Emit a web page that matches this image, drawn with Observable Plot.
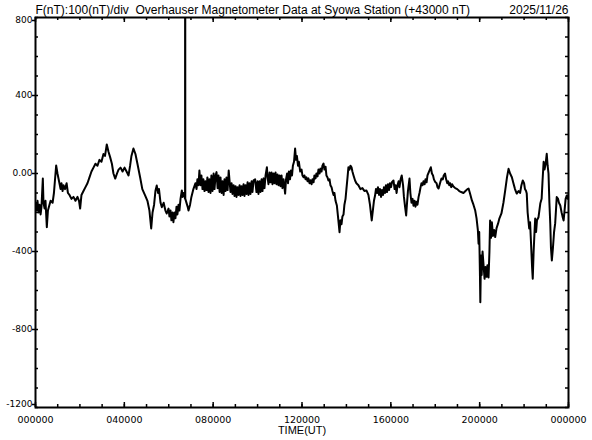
<!DOCTYPE html>
<html>
<head>
<meta charset="utf-8">
<script src="https://cdn.jsdelivr.net/npm/d3@7"></script>
<script src="https://cdn.jsdelivr.net/npm/@observablehq/plot@0.6"></script>
<style>
  html, body { margin: 0; padding: 0; background: #fff; overflow: hidden; }
  #chart svg text { white-space: pre; }
</style>
</head>
<body>
<div id="chart"></div>
<script>
// ---- Data (time in hours UT, field deviation in nT from 43000 nT) ----
const timeHours = [
  0,0.05,0.09,0.14,0.18,0.23,0.27,0.33,0.36,0.41,
  0.45,0.51,0.56,0.63,0.68,0.77,0.83,0.93,0.99,1.06,
  1.13,1.17,1.22,1.26,1.33,1.40,1.46,1.53,1.62,1.71,
  1.80,1.89,1.96,2.01,2.07,2.16,2.25,2.34,2.43,2.52,
  2.61,2.70,2.79,2.88,2.97,3.06,3.13,3.21,3.29,3.36,
  3.44,3.51,3.59,3.67,3.74,3.83,3.92,4.01,4.10,4.19,
  4.26,4.32,4.41,4.50,4.59,4.71,4.81,4.94,5.04,5.13,
  5.21,5.27,5.34,5.40,5.46,5.52,5.56,5.63,5.69,5.77,
  5.85,5.91,5.99,6.03,6.08,6.12,6.17,6.21,6.26,6.30,
  6.35,6.39,6.44,6.48,6.53,6.59,6.62,6.66,6.735,6.74,
  6.745,6.85,6.89,6.96,7.02,7.11,7.20,7.25,7.29,7.34,
  7.38,7.43,7.47,7.52,7.56,7.61,7.65,7.70,7.74,7.79,
  7.83,7.88,7.92,7.97,8.02,8.06,8.11,8.15,8.20,8.24,
  8.29,8.33,8.38,8.42,8.47,8.51,8.56,8.60,8.65,8.70,
  8.74,8.78,8.83,8.87,8.92,8.96,9.01,9.05,9.10,9.14,
  9.19,9.23,9.28,9.32,9.37,9.41,9.46,9.50,9.55,9.59,
  9.64,9.68,9.73,9.77,9.82,9.89,9.95,10.00,10.04,10.09,
  10.13,10.18,10.22,10.27,10.31,10.36,10.42,10.45,10.49,10.54,
  10.58,10.63,10.67,10.72,10.76,10.81,10.85,10.90,10.94,10.99,
  11.03,11.08,11.12,11.17,11.24,11.28,11.33,11.37,11.41,11.46,
  11.50,11.55,11.59,11.64,11.69,11.73,11.77,11.82,11.86,11.92,
  11.98,12.02,12.07,12.11,12.16,12.20,12.25,12.29,12.34,12.38,
  12.43,12.47,12.52,12.56,12.61,12.65,12.70,12.74,12.79,12.83,
  12.88,12.92,12.97,13.01,13.06,13.10,13.15,13.19,13.24,13.28,
  13.33,13.37,13.42,13.46,13.51,13.57,13.62,13.69,13.73,13.78,
  13.82,13.87,13.91,13.96,14.00,14.05,14.09,14.14,14.18,14.23,
  14.27,14.32,14.39,14.45,14.54,14.63,14.72,14.81,14.90,14.99,
  15.06,15.14,15.20,15.24,15.29,15.33,15.38,15.42,15.47,15.51,
  15.56,15.60,15.65,15.69,15.74,15.78,15.83,15.87,15.92,15.96,
  16.01,16.05,16.12,16.17,16.21,16.26,16.30,16.35,16.39,16.44,
  16.49,16.55,16.59,16.64,16.69,16.73,16.77,16.84,16.88,16.93,
  16.98,17.02,17.07,17.11,17.16,17.20,17.25,17.29,17.34,17.38,
  17.43,17.47,17.52,17.56,17.61,17.65,17.72,17.80,17.85,17.90,
  17.94,18.00,18.06,18.10,18.15,18.19,18.24,18.28,18.34,18.38,
  18.44,18.49,18.54,18.58,18.63,18.67,18.72,18.76,18.81,18.90,
  18.99,19.08,19.17,19.27,19.36,19.45,19.50,19.56,19.65,19.72,
  19.80,19.86,19.92,19.95,19.98,20.01,20.03,20.06,20.09,20.13,
  20.17,20.22,20.26,20.31,20.35,20.40,20.44,20.47,20.51,20.55,
  20.60,20.65,20.70,20.76,20.83,20.89,20.98,21.07,21.15,21.23,
  21.30,21.37,21.45,21.52,21.59,21.67,21.75,21.82,21.88,21.94,
  22.00,22.04,22.09,22.12,22.16,22.23,22.27,22.31,22.36,22.39,
  22.43,22.47,22.50,22.54,22.58,22.65,22.73,22.79,22.83,22.88,
  22.92,22.97,23.02,23.06,23.10,23.14,23.18,23.21,23.25,23.30,
  23.35,23.40,23.44,23.47,23.53,23.57,23.63,23.69,23.73,23.78,
  23.83,23.87,23.92,23.96,24.00
];
const fieldNT = [
  -150,-190,-140,-200,-160,-210,-170,-26,-150,-180,
  -140,-275,-190,-160,-140,-150,-100,41,0,-40,
  -80,-50,-90,-60,-80,-50,-100,-110,-130,-120,
  -140,-120,-140,-180,-110,-90,-70,-50,-20,10,
  30,50,40,70,60,100,90,149,110,84,
  50,0,-26,0,20,30,10,30,10,-10,
  40,90,128,100,50,-19,-80,-113,-140,-190,
  -282,-200,-160,-90,-62,-100,-80,-150,-173,-150,
  -190,-205,-180,-220,-190,-240,-200,-250,-200,-230,
  -170,-210,-160,-190,-130,-87,-120,-100,-130,3000,
  -130,-170,-190,-160,-120,-80,-50,-80,-30,-60,
  15,-60,-10,-80,-30,-90,-40,-85,-20,-95,
  -30,-100,-10,-90,0,-80,-10,7,-75,-10,
  -95,-20,-100,-40,-110,-30,-90,-20,-85,15,
  -40,-95,-50,-105,-60,-115,-65,-120,-70,-110,
  -60,-115,-65,-110,-55,-115,-60,-105,-45,-110,
  -50,-105,-40,-95,-35,-30,-95,-40,-105,-40,
  -95,-30,-90,-25,-75,-10,32,-20,-55,5,
  -45,5,-55,0,-50,5,-55,-5,-60,-10,
  -65,-10,-75,-30,-103,-30,0,-50,10,-30,
  15,-10,40,60,128,70,90,40,60,10,
  20,-10,-19,-10,-30,-20,-40,-25,-50,-35,
  -55,-30,-45,-10,-25,0,-15,20,0,25,
  10,40,51,20,35,-10,-20,-36,-30,-60,
  -70,-90,-110,-100,-140,-164,-220,-301,-240,-260,
  -220,-210,-160,-130,-80,-20,32,20,40,32,
  10,-10,-36,-50,-60,-80,-75,-90,-87,-110,
  -160,-241,-180,-140,-113,-80,-100,-70,-110,-80,
  -120,-85,-110,-70,-100,-60,-95,-55,-85,-50,
  -70,-45,-36,-80,-60,-100,-60,-40,-70,-30,
  -10,-60,-120,-170,-215,-150,-90,-26,-100,-150,
  -130,-165,-140,-170,-145,-160,-120,-100,-70,-50,
  -60,-40,-55,-30,-45,-10,10,32,0,-10,
  -30,-44,-50,-70,-77,-60,-40,-26,-30,-10,
  0,-30,-50,-40,-60,-50,-70,-55,-65,-75,
  -80,-90,-95,-100,-90,-80,-77,-100,-138,-160,
  -190,-230,-292,-360,-300,-500,-660,-420,-520,-400,
  -462,-540,-480,-530,-470,-533,-400,-241,-330,-250,
  -320,-290,-326,-280,-256,-230,-205,-150,-87,-20,
  24,0,-19,-50,-80,-103,-90,-100,-60,-36,
  -50,-80,-90,-103,-200,-282,-250,-350,-480,-540,
  -400,-300,-231,-300,-240,-224,-154,-130,-40,60,
  20,50,101,40,0,-150,-260,-380,-446,-380,
  -300,-256,-180,-121,-130,-150,-164,-200,-220,-241,
  -180,-130,-113,-130,-110
];

// ---- Axis ticks and labels ----
const xMajorTicks = [0, 4, 8, 12, 16, 20, 24];
const xTickLabels = ["000000", "040000", "080000", "120000", "160000", "200000", "000000"];
const xMinorTicks = [0,1,2,3,4,5,6,7,8,9,10,11,12,13,14,15,16,17,18,19,20,21,22,23,24];
const yMajorTicks = [800, 400, 0, -400, -800, -1200];
const yTickLabels = ["800", "400", "0.00", "-400", "-800", "-1200"];
const yMinorTicks = [-1200,-1100,-1000,-900,-800,-700,-600,-500,-400,-300,-200,-100,0,100,200,300,400,500,600,700,800];
const titleText = "F(nT):100(nT)/div  Overhauser Magnetometer Data at Syowa Station (+43000 nT)";
const dateText = "2025/11/26";
const xAxisTitle = "TIME(UT)";

// ---- Build ----
const data = timeHours.map((h, i) => ({h, v: fieldNT[i]}));
const W = 592, H = 440, mL = 35, mR = 24, mT = 17, mB = 33;
const frameW = W - mL - mR, frameH = H - mT - mB;
const xLabelMap = new Map(xMajorTicks.map((t, i) => [t, xTickLabels[i]]));
const yLabelMap = new Map(yMajorTicks.map((t, i) => [t, yTickLabels[i]]));
const yMid = yMajorTicks.filter(t => t !== 800 && t !== -1200);

const tickStyle = {stroke: "#000", strokeWidth: 1.5};
const yAxisOpts = {
  anchor: "left", tickSize: 3, tickPadding: 0, strokeWidth: 1.5,
  tickFormat: d => yLabelMap.get(d), fontSize: 9, fontFamily: "DejaVu Sans", label: null
};

const chart = Plot.plot({
  width: W, height: H,
  marginLeft: mL, marginRight: mR, marginTop: mT, marginBottom: mB,
  style: {background: "#fff", color: "#000", fontFamily: "Liberation Sans, Arial, sans-serif", overflow: "visible"},
  x: {domain: [0, 24], axis: null},
  y: {domain: [-1200, 800], axis: null},
  marks: [
    Plot.line(data, {x: "h", y: "v", stroke: "#000", strokeWidth: 2, clip: true}),
    // inward minor ticks
    Plot.tickX(xMinorTicks, {x: d => d, insetTop: frameH - 3, ...tickStyle}),
    Plot.tickX(xMinorTicks, {x: d => d, insetBottom: frameH - 3, ...tickStyle}),
    Plot.tickX(xMajorTicks, {x: d => d, insetTop: frameH - 5, ...tickStyle}),
    Plot.tickX(xMajorTicks, {x: d => d, insetBottom: frameH - 5, ...tickStyle}),
    Plot.tickY(yMinorTicks, {y: d => d, insetRight: frameW - 3, ...tickStyle}),
    Plot.tickY(yMinorTicks, {y: d => d, insetLeft: frameW - 3, ...tickStyle}),
    Plot.frame({stroke: "#000", strokeWidth: 2}),
    // axis labels
    Plot.axisX(xMajorTicks, {anchor: "bottom", tickSize: 0, tickPadding: 9,
      tickFormat: d => xLabelMap.get(d), fontSize: 9.5, fontFamily: "DejaVu Sans", label: null}),
    Plot.axisY(yMid, yAxisOpts),
    Plot.axisY([800], {...yAxisOpts, dy: 3}),
    Plot.axisY([-1200], {...yAxisOpts, dy: -3}),
    Plot.text([xAxisTitle], {frameAnchor: "bottom", dy: 23, lineAnchor: "middle",
      fontSize: 11, fontFamily: "Liberation Sans", fill: "#000"}),
    Plot.text([titleText], {frameAnchor: "top-left", textAnchor: "start", lineAnchor: "bottom", dy: -4,
      fontSize: 12, fontFamily: "Liberation Sans", fill: "#000"}),
    Plot.text([dateText], {frameAnchor: "top-right", textAnchor: "end", lineAnchor: "bottom", dy: -4,
      fontSize: 12, fontFamily: "Liberation Sans", fill: "#000"})
  ]
});
chart.querySelectorAll("text").forEach(t => t.setAttribute("xml:space", "preserve"));
document.getElementById("chart").appendChild(chart);
</script>
</body>
</html>
